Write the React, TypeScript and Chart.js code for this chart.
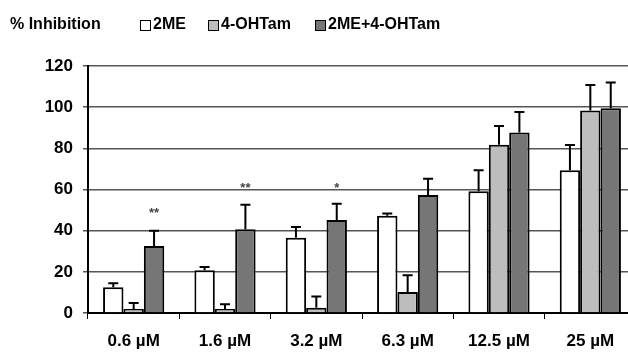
import React, { useEffect, useRef } from "react";
import { Chart, registerables } from "chart.js";

Chart.register(...registerables);

const categories = ["0.6 µM", "1.6 µM", "3.2 µM", "6.3 µM", "12.5 µM", "25 µM"];
const seriesNames = ["2ME", "4-OHTam", "2ME+4-OHTam"];
const me2 = [12.5, 20.8, 36.6, 47.2, 59.1, 69.3];
const ohtam = [2, 2, 2.5, 10.2, 81.7, 98.4];
const combo = [32.6, 40.7, 45.2, 57.3, 87.7, 99.5];
const me2Err = [14.5, 22.4, 41.8, 48.3, 69.3, 81.6];
const ohtamErr = [4.8, 4.2, 8, 18.4, 90.8, 110.8];
const comboErr = [40, 52.6, 53.1, 65.2, 97.7, 112];
const stars = ["**", "**", "*", "", "", ""];
const starY = [50, 62, 62, 0, 0, 0];
const yTicks = [0, 20, 40, 60, 80, 100, 120];

const colors = ["#ffffff", "#bdbdbd", "#767676"];
const FONT = "'Liberation Sans', Arial, sans-serif";

export default function App() {
  const ref = useRef<HTMLCanvasElement>(null);
  useEffect(() => {
    document.body.style.overflow = "hidden";
    const ctx = ref.current!;
    const errs = [me2Err, ohtamErr, comboErr];
    const overlay = {
      id: "overlay",
      afterDatasetsDraw(chart: any) {
        const c = chart.ctx;
        const y = chart.scales.y;
        c.save();
        c.strokeStyle = "#000";
        c.lineWidth = 2;
        errs.forEach((arr, di) => {
          const meta = chart.getDatasetMeta(di);
          meta.data.forEach((bar: any, j: number) => {
            const top = y.getPixelForValue(arr[j]);
            c.beginPath();
            c.moveTo(bar.x, bar.y);
            c.lineTo(bar.x, top);
            c.moveTo(bar.x - 5, top);
            c.lineTo(bar.x + 5, top);
            c.stroke();
          });
        });
        const meta2 = chart.getDatasetMeta(2);
        c.fillStyle = "#444";
        c.font = `bold 13px ${FONT}`;
        c.textAlign = "center";
        c.textBaseline = "middle";
        stars.forEach((s, j) => {
          if (!s) return;
          c.fillText(s, meta2.data[j].x, y.getPixelForValue(starY[j]) + 3);
        });
        c.restore();
      },
      afterDraw(chart: any) {
        const c = chart.ctx;
        c.save();
        c.fillStyle = "#000";
        c.font = `bold 16px ${FONT}`;
        c.textBaseline = "middle";
        c.textAlign = "left";
        c.fillText("% Inhibition", 10, 25);
        const xs = [140, 208, 315];
        seriesNames.forEach((n, i) => {
          c.fillStyle = colors[i];
          c.fillRect(xs[i], 20, 10, 10);
          c.strokeStyle = "#000";
          c.lineWidth = 1;
          c.strokeRect(xs[i] + 0.5, 20.5, 10, 10);
          c.fillStyle = "#000";
          c.fillText(n, xs[i] + 13, 25);
        });
        c.restore();
      },
    };
    const chart = new Chart(ctx, {
      type: "bar",
      data: {
        labels: categories,
        datasets: [me2, ohtam, combo].map((d, i) => ({
          label: seriesNames[i],
          data: d,
          backgroundColor: colors[i],
          borderColor: "#000",
          borderWidth: 2,
          borderSkipped: "bottom",
          categoryPercentage: 0.67,
          barPercentage: 1,
        })),
      },
      options: {
        animation: false,
        responsive: false,
        maintainAspectRatio: false,
        layout: { padding: { top: 66, right: 0, left: 0, bottom: 0 } },
        plugins: { legend: { display: false }, tooltip: { enabled: false } },
        scales: {
          x: {
            afterFit: (s: any) => { s.height = 39; },
            grid: { drawOnChartArea: false, color: "#000", tickLength: 6, lineWidth: 1 },
            border: { color: "#000", width: 2 },
            ticks: { color: "#000", font: { family: FONT, size: 17, weight: "bold" }, padding: 12 },
          },
          y: {
            min: 0,
            max: 120,
            afterBuildTicks: (s: any) => { s.ticks = yTicks.map((v) => ({ value: v })); },
            afterFit: (s: any) => { s.width = 88; },
            grid: { color: "#555", lineWidth: 1.5, tickLength: 5 },
            border: { color: "#000", width: 2 },
            ticks: { color: "#000", font: { family: FONT, size: 17, weight: "bold" }, padding: 10 },
          },
        },
      },
      plugins: [overlay],
    } as any);
    return () => chart.destroy();
  }, []);
  return (
    <div style={{ position: "absolute", left: 0, top: 0, width: 636, height: 352 }}>
      <canvas ref={ref} width={636} height={352} style={{ width: 636, height: 352 }} />
    </div>
  );
}
